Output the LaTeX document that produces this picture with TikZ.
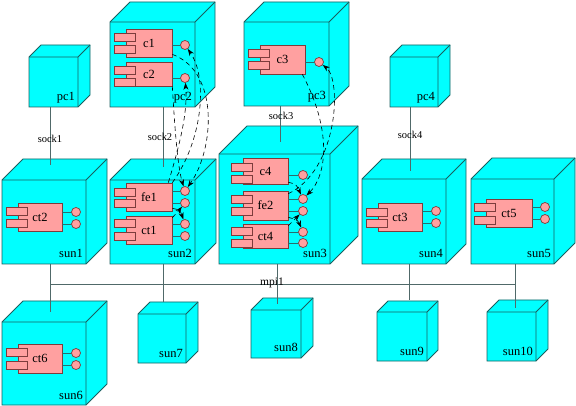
\documentclass[tikz,border=0pt]{standalone}
\usepackage{fontspec}
\setmainfont{Liberation Serif}
\usetikzlibrary{arrows.meta}
\definecolor{cubefill}{RGB}{0,255,255}
\definecolor{cubeline}{RGB}{25,95,95}
\definecolor{compfill}{RGB}{255,160,160}
\definecolor{compline}{RGB}{125,60,60}
\definecolor{portcol}{RGB}{40,110,110}
\definecolor{netcol}{RGB}{80,105,105}
\tikzset{
 cubeshape/.style={fill=cubefill, draw=cubeline, line width=0.8pt, line join=miter},
 cubelabel/.style={font=\fontsize{12.5}{14}\selectfont, inner sep=0pt, anchor=base east},
 compbody/.style={draw=compline, fill=compfill, line width=0.7pt, inner sep=0pt, font=\fontsize{12.5}{14}\selectfont},
 comptab/.style={draw=compline, fill=compfill, line width=0.7pt},
 port/.style={circle, draw=compline, fill=compfill, minimum size=9pt, inner sep=0pt, line width=0.7pt},
 portline/.style={draw=portcol, line width=0.7pt},
 netline/.style={draw=netcol, line width=0.8pt},
 netlabel/.style={font=\fontsize{10.5}{12}\selectfont, inner sep=0pt},
 mpilabel/.style={font=\fontsize{11.5}{13}\selectfont, inner sep=0pt},
 dep/.style={dash pattern=on 4.5pt off 3.5pt, line width=0.6pt, -{Stealth[length=7pt,width=5pt]}},
}
% #1 name, #2 x1, #3 y1, #4 x2, #5 y2, #6 depth
\newcommand{\Cube}[6]{%
 \filldraw[cubeshape] (#2,#3) -- ({#2+#6},{#3-#6}) -- ({#4+#6},{#3-#6}) -- ({#4+#6},{#5-#6}) -- (#4,#5) -- (#2,#5) -- cycle;
 \draw[cubeshape, fill=none] (#2,#3) -- (#4,#3) -- (#4,#5) (#4,#3) -- ({#4+#6},{#3-#6});
 \node[cubelabel] (#1) at ({#4-3},{#5-6}) {#1};
}
% #1 name, #2 x1, #3 y1, #4 x2, #5 y2, #6 tab1 top, #7 tab2 top
\newcommand{\Comp}[7]{%
 \node[compbody, minimum width={#4-#2}, minimum height={#5-#3}] (#1) at ({(#2+#4)/2},{(#3+#5)/2}) {#1};
 \filldraw[comptab] ({#2-12},#6) rectangle ({#2+9},{#6+8});
 \filldraw[comptab] ({#2-12},#7) rectangle ({#2+9},{#7+8});
}
% #1 port name, #2 component, #3 cx, #4 cy
\newcommand{\Port}[4]{%
 \node[port] (#1) at (#3,#4) {};
 \draw[portline] (#1.west) -- (#1.west -| #2.east);
}
\begin{document}
\begin{tikzpicture}[x=1pt,y=-1pt]
\useasboundingbox (0,0) rectangle (576,406);
% cubes
\Cube{pc1}{29}{57}{78}{107}{12}
\Cube{pc2}{110}{22}{195}{107}{20}
\Cube{pc3}{244}{22}{329}{106}{20}
\Cube{pc4}{390}{57}{438}{107}{12}
\Cube{sun1}{2}{180}{86}{264}{21}
\Cube{sun2}{110}{180}{195}{264}{21}
\Cube{sun3}{219}{154}{330}{264}{28}
\Cube{sun4}{362}{179}{446}{264}{20}
\Cube{sun5}{471}{179}{554}{264}{21}
\Cube{sun6}{2}{322}{86}{405}{21}
\Cube{sun7}{138}{314}{186}{363}{12}
\Cube{sun8}{251}{310}{301}{358}{12}
\Cube{sun9}{377}{312}{427}{361}{11}
\Cube{sun10}{487}{312}{536}{361}{12}
% components
\Comp{c1}{126}{29}{172}{57}{33}{45}
\Port{c1p}{c1}{185}{45}
\Comp{c2}{126}{62}{172}{86}{66}{78}
\Port{c2p}{c2}{185}{78}
\Comp{c3}{260}{45}{305}{74}{49}{61}
\Port{c3p}{c3}{319}{62}
\Comp{ct2}{18}{203}{62}{231}{207}{219}
\Port{ct2p1}{ct2}{76}{212}
\Port{ct2p2}{ct2}{76}{224}
\Comp{fe1}{126}{183}{172}{211}{188}{199}
\Port{fe1p1}{fe1}{185}{191}
\Port{fe1p2}{fe1}{185}{203}
\Comp{ct1}{126}{216}{172}{244}{219}{232}
\Port{ct1p1}{ct1}{185}{224}
\Port{ct1p2}{ct1}{185}{236}
\Comp{c4}{243}{158}{288}{184}{163}{175}
\Port{c4p}{c4}{303}{175}
\Comp{fe2}{243}{191}{288}{220}{195}{207}
\Port{fe2p1}{fe2}{303}{199}
\Port{fe2p2}{fe2}{303}{211}
\Comp{ct4}{243}{224}{288}{248}{227}{239}
\Port{ct4p1}{ct4}{303}{232}
\Port{ct4p2}{ct4}{303}{243}
\Comp{ct3}{378}{203}{422}{231}{208}{219}
\Port{ct3p1}{ct3}{436}{211}
\Port{ct3p2}{ct3}{436}{223}
\Comp{ct5}{486}{199}{532}{227}{203}{216}
\Port{ct5p1}{ct5}{545}{207}
\Port{ct5p2}{ct5}{545}{219}
\Comp{ct6}{18}{344}{62}{373}{348}{361}
\Port{ct6p1}{ct6}{76}{353}
\Port{ct6p2}{ct6}{76}{365}
% network coordinates
\coordinate (pc1b) at (50,107);  \coordinate (sun1t) at (50,165);
\coordinate (pc2b) at (163,107); \coordinate (sun2t) at (163,167);
\coordinate (pc3b) at (280,106); \coordinate (sun3t) at (280,142);
\coordinate (pc4b) at (410,107); \coordinate (sun4t) at (410,171);
\coordinate (mpiL) at (50,284);  \coordinate (mpiR) at (515,284);
\coordinate (sun1b) at (50,264); \coordinate (sun6t) at (50,312);
\coordinate (sun2b) at (163,264); \coordinate (sun7t) at (163,302);
\coordinate (sun3b) at (277,264); \coordinate (sun8t) at (277,304);
\coordinate (sun4b) at (409,264); \coordinate (sun9t) at (409,300);
\coordinate (sun5b) at (515,264); \coordinate (sun10t) at (515,308);
\draw[netline] (pc1b) -- (sun1t);
\draw[netline] (pc2b) -- (sun2t);
\draw[netline] (pc3b) -- (sun3t);
\draw[netline] (pc4b) -- (sun4t);
\draw[netline] (mpiL) -- (mpiR);
\draw[netline] (sun1b) -- (sun6t);
\draw[netline] (sun2b) -- (sun7t);
\draw[netline] (sun3b) -- (sun8t);
\draw[netline] (sun4b) -- (sun9t);
\draw[netline] (sun5b) -- (sun10t);
\node[netlabel] (sock1) at (50,139) {sock1};
\node[netlabel] (sock2) at (160,137) {sock2};
\node[netlabel] (sock3) at (281,116) {sock3};
\node[netlabel] (sock4) at (410,135) {sock4};
\node[mpilabel] (mpi1) at (272,283) {mpi1};
% dependencies
\draw[dep] ([yshift=3pt]c1.south east) .. controls (220,72) and (214,150) .. (fe1p1);
\draw[dep] ([xshift=-4pt]fe1.north east) .. controls (178,150) and (188,115) .. (c2p);
\draw[dep] (fe1.north east) .. controls (203,140) and (208,78) .. (c1p);
\draw[dep] (c2.south east) .. controls (174,115) and (177,165) .. (fe1p1);
\draw[dep] ([yshift=3pt]fe1.south east) .. controls (180,210) .. (ct1p1);
\draw[dep] ([yshift=-2pt]ct1.north east) .. controls (176,214) .. (fe1p2);
\draw[dep] ([yshift=2pt]c4.south east) .. controls (296,184) .. (fe2p1);
\draw[dep] ([xshift=-3pt]c3.south east) .. controls (332,130) and (327,175) .. (fe2p1);
\draw[dep] ([yshift=-3pt]fe2.north east) .. controls (338,170) and (342,80) .. (c3p);
\draw[dep] ([yshift=3pt]fe2.south east) .. controls (298,220) .. (ct4p1);
\draw[dep] ([yshift=-2pt]ct4.north east) .. controls (292,222) .. (fe2p2);
\end{tikzpicture}
\end{document}
